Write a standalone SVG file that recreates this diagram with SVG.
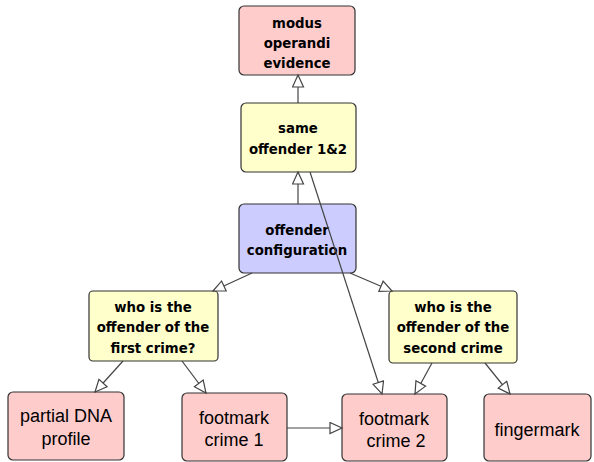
<svg xmlns="http://www.w3.org/2000/svg" width="594" height="462" viewBox="0 0 594 462">
<style>
.n rect{stroke:#333;stroke-width:1.2}
.pink{fill:#ffcccc}.yel{fill:#ffffcc}.lav{fill:#ccccff}
.t{font-family:"DejaVu Sans",Verdana,sans-serif;font-weight:bold;font-size:13.3px;fill:#000;text-anchor:middle}
.b{font-family:"Liberation Sans",Arial,sans-serif;font-size:18px;fill:#000;text-anchor:middle}
#edges line{stroke:#444;stroke-width:1.2;marker-end:url(#ah)}
</style>
<defs>
<marker id="ah" markerUnits="userSpaceOnUse" markerWidth="16" markerHeight="16" refX="13" refY="6.5" orient="auto">
<path d="M1,1 L13,6.5 L1,12 Z" fill="#fff" stroke="#444" stroke-width="1.2"/>
</marker>
</defs>
<rect width="594" height="462" fill="#fff"/>
<g id="modus" class="n"><rect class="pink" x="239" y="6" width="116" height="69" rx="5"/>
<text class="t" x="297" y="28">modus</text><text class="t" x="297" y="48">operandi</text><text class="t" x="297" y="68">evidence</text></g>
<g id="same" class="n"><rect class="yel" x="241" y="103" width="115" height="69" rx="5"/>
<text class="t" x="298" y="133">same</text><text class="t" x="298" y="154">offender 1&amp;2</text></g>
<g id="config" class="n"><rect class="lav" x="239" y="204" width="117" height="69" rx="5"/>
<text class="t" x="297" y="235">offender</text><text class="t" x="297" y="255">configuration</text></g>
<g id="who1" class="n"><rect class="yel" x="89" y="291" width="129" height="70" rx="4"/>
<text class="t" x="153" y="312">who is the</text><text class="t" x="153" y="332">offender of the</text><text class="t" x="153" y="353">first crime?</text></g>
<g id="who2" class="n"><rect class="yel" x="389" y="291" width="128" height="72" rx="4"/>
<text class="t" x="453" y="312">who is the</text><text class="t" x="453" y="332">offender of the</text><text class="t" x="453" y="353">second crime</text></g>
<g id="dna" class="n"><rect class="pink" x="8" y="392" width="116" height="68" rx="5"/>
<text class="b" x="66" y="422">partial DNA</text><text class="b" x="66" y="445">profile</text></g>
<g id="fm1" class="n"><rect class="pink" x="182" y="393" width="105" height="68" rx="5"/>
<text class="b" x="234" y="424">footmark</text><text class="b" x="234" y="446">crime 1</text></g>
<g id="fm2" class="n"><rect class="pink" x="342" y="394" width="105" height="67" rx="5"/>
<text class="b" x="394" y="425">footmark</text><text class="b" x="396" y="447">crime 2</text></g>
<g id="finger" class="n"><rect class="pink" x="484" y="394" width="107" height="67" rx="5"/>
<text class="b" x="537" y="436">fingermark</text></g>
<g id="edges">
<line x1="298" y1="103" x2="298" y2="75"/>
<line x1="298" y1="204" x2="298" y2="172"/>
<line x1="310" y1="172" x2="382" y2="394"/>
<line x1="252" y1="273" x2="213" y2="291"/>
<line x1="350" y1="273" x2="392" y2="291"/>
<line x1="123" y1="361" x2="95" y2="392"/>
<line x1="182" y1="361" x2="206" y2="393"/>
<line x1="432" y1="363" x2="415" y2="394"/>
<line x1="485" y1="363" x2="510" y2="394"/>
<line x1="287" y1="428" x2="342" y2="428"/>
</g>
</svg>
